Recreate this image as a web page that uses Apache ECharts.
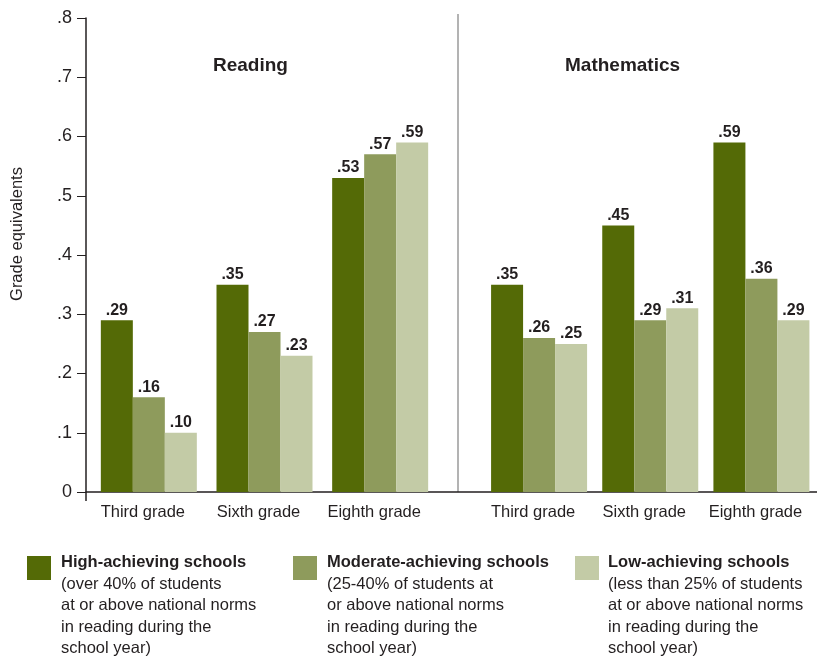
<!DOCTYPE html>
<html>
<head>
<meta charset="utf-8">
<script src="https://cdn.jsdelivr.net/npm/echarts@6/dist/echarts.min.js"></script>
<style>
  html, body { margin: 0; padding: 0; background: #fff; }
  #chart { width: 817px; height: 658px; }
</style>
</head>
<body>
<div id="chart"></div>
<script>
// Grade-equivalent gains by school achievement level
const grades = ['Third grade', 'Sixth grade', 'Eighth grade'];
const panels = ['Reading', 'Mathematics'];
const yTickLabels = ['0', '.1', '.2', '.3', '.4', '.5', '.6', '.7', '.8'];

const readingHigh = [0.29, 0.35, 0.53];
const readingModerate = [0.16, 0.27, 0.57];
const readingLow = [0.10, 0.23, 0.59];

const mathHigh = [0.35, 0.45, 0.59];
const mathModerate = [0.26, 0.29, 0.36];
const mathLow = [0.25, 0.31, 0.29];

const groupNames = ['High-achieving schools', 'Moderate-achieving schools', 'Low-achieving schools'];
const groupNotes = [
  ['(over 40% of students', 'at or above national norms', 'in reading during the', 'school year)'],
  ['(25-40% of students at', 'or above national norms', 'in reading during the', 'school year)'],
  ['(less than 25% of students', 'at or above national norms', 'in reading during the', 'school year)']
];
const colors = ['#546a06', '#8e9b5c', '#c3cba6'];

const FONT = '"Liberation Sans", Arial, Helvetica, sans-serif';
const TEXT = '#231f20';

const fmtValue = v => v.toFixed(2).replace(/^0/, '');

const chart = echarts.init(document.getElementById('chart'));

const valueAxisBase = { type: 'value', min: 0, max: 0.8, interval: 0.1 };

function barSeries(data, idx, axisIndex) {
  return {
    type: 'bar',
    name: groupNames[idx],
    data: data,
    xAxisIndex: axisIndex,
    yAxisIndex: axisIndex,
    barWidth: 32,
    barGap: '0%',
    itemStyle: { color: colors[idx] },
    label: {
      show: true,
      position: 'top',
      distance: 2,
      formatter: p => fmtValue(p.value),
      fontFamily: FONT,
      fontWeight: 'bold',
      fontSize: 16,
      color: TEXT
    },
    silent: true
  };
}

const catAxis = (gridIndex, pad) => ({
  type: 'category',
  gridIndex: gridIndex,
  data: grades,
  axisLine: { show: false },
  axisTick: { show: false },
  axisLabel: {
    interval: 0,
    hideOverlap: false,
    margin: 12,
    fontFamily: FONT,
    fontSize: 16.5,
    color: TEXT,
    padding: [0, pad, 0, 0]
  }
});

// Legend built from the group names, notes and colours
const legendItems = [
  { sx: 27, tx: 61 },
  { sx: 293, tx: 327 },
  { sx: 575, tx: 608 }
].map((pos, i) => ({
  type: 'group',
  children: [
    { type: 'rect', shape: { x: pos.sx, y: 556, width: 24, height: 24 }, style: { fill: colors[i] } },
    {
      type: 'text',
      x: pos.tx,
      y: 552,
      style: {
        text: '{b|' + groupNames[i] + '}\n' + groupNotes[i].join('\n'),
        fontFamily: FONT,
        fontSize: 16.5,
        lineHeight: 21.5,
        fill: TEXT,
        verticalAlign: 'top',
        rich: { b: { fontWeight: 'bold', fontSize: 16.5, lineHeight: 21.5, fontFamily: FONT, fill: TEXT } }
      }
    }
  ]
}));

chart.setOption({
  animation: false,
  backgroundColor: '#fff',
  title: [
    { text: panels[0], left: 213, top: 56, padding: 0,
      textStyle: { fontFamily: FONT, fontWeight: 'bold', fontSize: 19, color: TEXT } },
    { text: panels[1], left: 565, top: 56, padding: 0,
      textStyle: { fontFamily: FONT, fontWeight: 'bold', fontSize: 19, color: TEXT } }
  ],
  grid: [
    // frame: y axis and baseline
    { left: 86, right: 0, top: 18, bottom: 166 },
    // reading bars
    { left: 91, width: 347, top: 18, bottom: 166 },
    // mathematics bars
    { left: 483.5, width: 340.5, top: 18, bottom: 166 }
  ],
  xAxis: [
    {
      type: 'value', gridIndex: 0, min: 0, max: 1,
      axisLine: { show: true, lineStyle: { color: TEXT, width: 1.5 } },
      axisTick: { show: true, customValues: [0], length: 9, lineStyle: { color: TEXT, width: 1.5 } },
      axisLabel: { show: false },
      splitLine: { show: false }
    },
    catAxis(1, 12),
    catAxis(2, 12)
  ],
  yAxis: [
    Object.assign({}, valueAxisBase, {
      gridIndex: 0,
      name: 'Grade equivalents',
      nameLocation: 'middle',
      nameGap: 60,
      nameTextStyle: { fontFamily: FONT, fontSize: 16.5, color: TEXT, padding: [0, 0, 0, 42] },
      axisLine: { show: true, lineStyle: { color: TEXT, width: 1.5 } },
      axisTick: { show: true, length: 9, lineStyle: { color: TEXT, width: 1 } },
      axisLabel: {
        margin: 14,
        fontFamily: FONT,
        fontSize: 18,
        color: TEXT,
        formatter: v => yTickLabels[Math.round(v * 10)]
      },
      splitLine: { show: false }
    }),
    Object.assign({}, valueAxisBase, { gridIndex: 1, show: false }),
    Object.assign({}, valueAxisBase, { gridIndex: 2, show: false })
  ],
  series: [
    // frame series keeps the first grid's axes alive
    { type: 'line', xAxisIndex: 0, yAxisIndex: 0, data: [], silent: true },
    barSeries(readingHigh, 0, 1),
    barSeries(readingModerate, 1, 1),
    barSeries(readingLow, 2, 1),
    barSeries(mathHigh, 0, 2),
    barSeries(mathModerate, 1, 2),
    barSeries(mathLow, 2, 2)
  ],
  graphic: [
    // divider between the two subject panels
    { type: 'line', shape: { x1: 458, y1: 14, x2: 458, y2: 492 }, style: { stroke: '#9a9a9a', lineWidth: 1.5 }, silent: true }
  ].concat(legendItems)
});
</script>
</body>
</html>
